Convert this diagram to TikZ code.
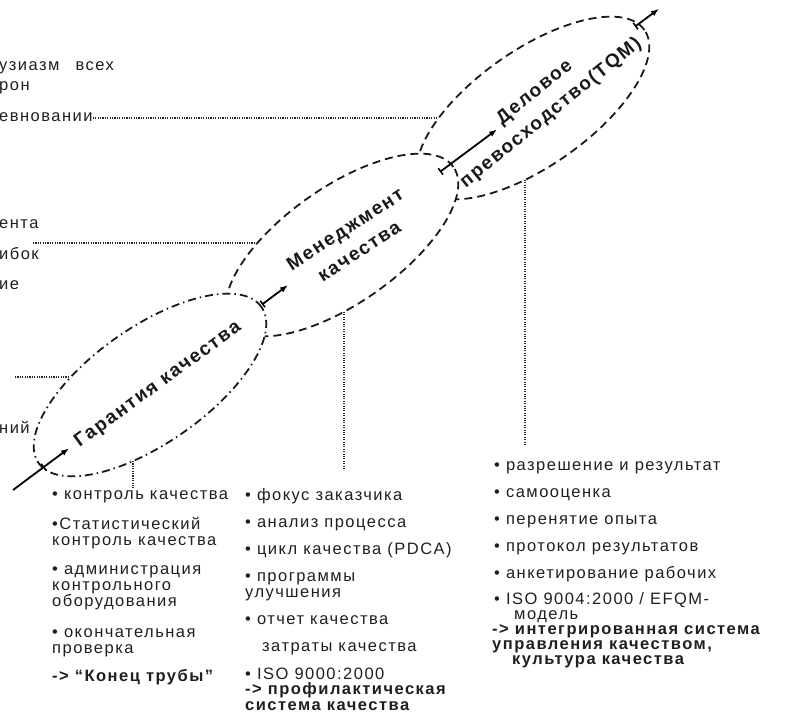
\documentclass[tikz,border=0pt]{standalone}
\usepackage{fontspec}
\setmainfont[LetterSpace=9]{Liberation Sans}
\usetikzlibrary{shapes.geometric,arrows.meta}

\begin{document}
\begin{tikzpicture}[x=1pt,y=-1pt,
  blob/.style={ellipse, draw=black!90, fill=white, line width=1.8pt,
    minimum width=272pt, minimum height=116pt, inner sep=0pt, rotate=35},
  dashblob/.style={blob, dash pattern=on 8pt off 5pt},
  dotblob/.style={blob, dash pattern=on 8pt off 4pt on 1.5pt off 4pt},
  lead/.style={draw=black!85, line width=1.1pt, dash pattern=on 1.1pt off 1.3pt},
  flow/.style={draw=black, line width=1.8pt,
    {Bar[width=8pt,line width=1.6pt]}-{Latex[length=8pt,width=6pt]}},
  title/.style={font=\fontsize{19}{26}\selectfont\bfseries, align=center,
    inner sep=0pt, text=black!90},
  ln/.style={anchor=west, inner sep=0pt, font=\fontsize{16.5}{17}\selectfont,
    text height=11pt, text depth=3pt, text=black!88},
  lnb/.style={ln, font=\fontsize{16.5}{17}\selectfont\bfseries},
]
\useasboundingbox (0,0) rectangle (785,719);

% the three stages along the development axis
\node[dashblob] (e3) at (533,108) {};
\node[dashblob] (e2) at (342,245) {};
\node[dotblob]  (e1) at (150,385) {};

\node[title, rotate=36] (t1) at (158,385) {Гарантия качества};
\node[title, rotate=33] (t2) at (352,240) {Менеджмент\\качества};
\node[title, rotate=39] (t3) at (543,103) {Деловое\\превосходство(TQM)};

% axis arrows
\coordinate (s0) at (13,490);
\coordinate (a1s) at (43,467.6);
\coordinate (a1e) at (69,448.3);
\coordinate (a2s) at (262,304.5);
\coordinate (a2e) at (288,285.1);
\coordinate (a3s) at (440,171.9);
\coordinate (a3e) at (497,129.4);
\coordinate (a4s) at (635,26.6);
\coordinate (a4e) at (659,8.8);
\draw[line width=1.8pt] (s0) -- (a1s);
\draw[flow] (a1s) -- (a1e);
\draw[flow] (a2s) -- (a2e);
\draw[flow] (a3s) -- (a3e);
\draw[flow] (a4s) -- (a4e);

% left column (cut at the margin)
\node[ln] (f1) at (-1,67) {узиазм\hspace{16pt}всех};
\node[ln] (f2) at (-1,87) {рон};
\node[ln] (f3) at (-1,118) {евновании};
\node[ln] (f4) at (-1,225) {ента};
\node[ln] (f5) at (-1,256) {ибок};
\node[ln] (f6) at (-1,286) {ие};
\node[ln] (f7) at (-1,430) {ний};

\coordinate (k3) at (437,118);
\coordinate (k2s) at (33,243);
\coordinate (k2) at (255,243);
\coordinate (k1s) at (15,377);
\coordinate (k1) at (69,377);
\draw[lead] (f3.east) -- (k3);
\draw[lead] (k2s) -- (k2);
\draw[lead] (k1s) -- (k1);

% drop lines to the lists
\coordinate (d1s) at (133,461);
\coordinate (d1e) at (133,488);
\coordinate (d2s) at (344,312);
\coordinate (d2e) at (344,470);
\coordinate (d3s) at (525,180);
\coordinate (d3e) at (525,445);
\draw[lead] (d1s) -- (d1e);
\draw[lead] (d2s) -- (d2e);
\draw[lead] (d3s) -- (d3e);

% list under quality assurance
\node[ln] (b1a) at (52,495) {• контроль качества};
\node[ln] (b1b) at (52,525) {•Статистический};
\node[ln] (b1c) at (52,541) {контроль качества};
\node[ln] (b1d) at (52,570) {• администрация};
\node[ln] (b1e) at (52,586) {контрольного};
\node[ln] (b1f) at (52,602) {оборудования};
\node[ln] (b1g) at (52,633) {• окончательная};
\node[ln] (b1h) at (52,649) {проверка};
\node[lnb] (b1i) at (52,677) {-> “Конец трубы”};

% list under quality management
\node[ln] (b2a) at (245,496) {• фокус заказчика};
\node[ln] (b2b) at (245,523) {• анализ процесса};
\node[ln] (b2c) at (245,550) {• цикл качества (PDCA)};
\node[ln] (b2d) at (245,577) {• программы};
\node[ln] (b2e) at (245,593) {улучшения};
\node[ln] (b2f) at (245,620) {• отчет качества};
\node[ln] (b2g) at (262,647) {затраты качества};
\node[ln] (b2h) at (245,675) {• ISO 9000:2000};
\node[lnb] (b2i) at (245,690) {-> профилактическая};
\node[lnb] (b2j) at (245,706) {система качества};

% list under business excellence
\node[ln] (b3a) at (494,466) {• разрешение и результат};
\node[ln] (b3b) at (494,493) {• самооценка};
\node[ln] (b3c) at (494,520) {• перенятие опыта};
\node[ln] (b3d) at (494,547) {• протокол результатов};
\node[ln] (b3e) at (494,574) {• анкетирование рабочих};
\node[ln] (b3f) at (494,600) {• ISO 9004:2000 / EFQM-};
\node[ln] (b3g) at (514,615) {модель};
\node[lnb] (b3h) at (492,630) {-> интегрированная система};
\node[lnb] (b3i) at (492,645) {управления качеством,};
\node[lnb] (b3j) at (512,660) {культура качества};
\end{tikzpicture}
\end{document}
